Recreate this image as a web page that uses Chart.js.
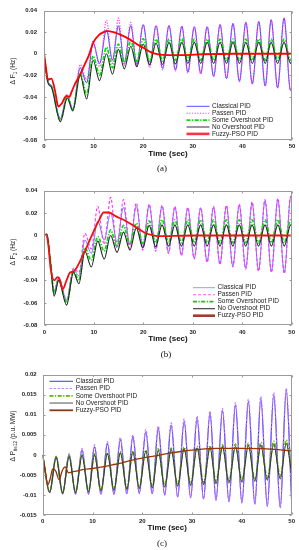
<!DOCTYPE html>
<html><head><meta charset="utf-8">
<script src="https://cdn.jsdelivr.net/npm/chart.js@4.4.0/dist/chart.umd.min.js"></script>
<style>
html,body{margin:0;padding:0;background:#fff;}
#wrap{position:relative;width:299px;height:550px;overflow:hidden;background:#fff;}
canvas{position:absolute;left:0;}
.lab{position:absolute;font-family:"Liberation Serif","DejaVu Serif",serif;font-size:9px;color:#111;transform:translate(-50%,-50%);white-space:nowrap;}
</style></head><body>
<div id="wrap">
<canvas id="ca" width="299" height="180" style="top:0px"></canvas>
<canvas id="cb" width="299" height="180" style="top:180px"></canvas>
<canvas id="cc" width="299" height="190" style="top:360px"></canvas>
<div class="lab" style="left:162px;top:168px">(a)</div>
<div class="lab" style="left:166px;top:354px">(b)</div>
<div class="lab" style="left:162px;top:543px">(c)</div>
</div>
<script>
// ---------- names and tick labels ----------
const seriesNames = ['Classical PID','Passen PID','Some Overshoot PID','No Overshoot PID','Fuzzy-PSO PID'];
const xTickLabels = ['0','10','20','30','40','50'];
const yTickLabelsA = ['0.04','0.02','0','-0.02','-0.04','-0.06','-0.08'];
const yTickLabelsB = ['0.04','0.02','0','-0.02','-0.04','-0.06','-0.08'];
const yTickLabelsC = ['0.02','0.015','0.01','0.005','0','-0.005','-0.01','-0.015'];

// ---------- panel (a): ΔF1 ----------
const timeA = [0,0.8,1.5,3.3,4.7,5.8,7.3,8.6,9.9,11.2,12.6,13.8,15.0,16.2,17.5,18.7,20.0,21.3,22.6,23.9,25.2,26.5,27.8,29.0,30.3,31.6,32.9,34.2,35.5,36.8,38.1,39.4,40.7,42.0,43.3,44.6,45.8,47.1,48.4,49.7,50];
const classicalA = [0,-0.026,-0.030,-0.060,-0.039,-0.052,-0.013,-0.027,0.010,-0.009,0.022,-0.006,0.026,-0.008,0.026,-0.010,0.027,-0.0105,0.026,-0.0135,0.026,-0.015,0.0255,-0.017,0.025,-0.018,0.025,-0.021,0.027,-0.023,0.028,-0.0255,0.029,-0.028,0.030,-0.030,0.0315,-0.0315,0.033,-0.034,-0.031];
const passenA = [0,-0.026,-0.030,-0.060,-0.038,-0.051,-0.010,-0.024,0.012,-0.012,0.031,-0.009,0.033,-0.011,0.029,-0.012,0.027,-0.013,0.026,-0.015,0.026,-0.016,0.0255,-0.018,0.025,-0.019,0.025,-0.021,0.027,-0.023,0.028,-0.026,0.029,-0.028,0.030,-0.030,0.0315,-0.032,0.033,-0.034,-0.031];
const someOvA = [0,-0.026,-0.030,-0.062,-0.040,-0.052,-0.018,-0.038,-0.002,-0.020,0.006,-0.013,0.009,-0.009,0.012,-0.007,0.014,-0.007,0.0135,-0.0065,0.0135,-0.006,0.014,-0.006,0.0135,-0.006,0.0135,-0.006,0.0135,-0.006,0.0135,-0.006,0.0135,-0.006,0.0135,-0.006,0.0135,-0.006,0.0135,-0.006,-0.004];
const noOvA = [0,-0.027,-0.031,-0.063,-0.041,-0.053,-0.020,-0.042,-0.006,-0.025,0.000,-0.019,0.004,-0.014,0.007,-0.012,0.009,-0.0105,0.010,-0.010,0.0105,-0.0095,0.0105,-0.009,0.0105,-0.009,0.0105,-0.009,0.0105,-0.009,0.0105,-0.009,0.0105,-0.009,0.0105,-0.009,0.0105,-0.009,0.0105,-0.009,-0.006];
const fuzzyTimeA = [0,0.3,0.8,1.5,2.2,2.9,3.6,4.5,5.1,5.6,6.2,7.2,8.0,9.0,10.0,11.0,12.0,12.8,14.0,15.5,17.0,18.5,20.0,21.5,23.0,25.0,28.0,32.0,38.0,50];
const fuzzyA = [0,-0.010,-0.024,-0.023,-0.034,-0.049,-0.046,-0.039,-0.040,-0.035,-0.0285,-0.020,-0.012,-0.002,0.011,0.017,0.020,0.021,0.020,0.0175,0.014,0.0095,0.0055,0.0015,-0.0005,-0.0012,-0.0012,-0.0005,0,0];

// ---------- panel (b): ΔF2 ----------
const timeB = [0,0.5,1.2,2.0,2.9,4.5,5.9,7.0,8.2,9.5,10.8,12.1,13.4,14.7,16.0,17.3,18.6,19.9,21.2,22.5,23.8,25.1,26.4,27.7,29.0,30.3,31.6,32.9,34.2,35.5,36.8,38.1,39.4,40.7,42.0,43.3,44.6,45.9,47.2,48.5,49.8,50];
const classicalB = [0,0.001,-0.022,-0.050,-0.038,-0.058,-0.030,-0.036,-0.004,-0.016,0.013,-0.004,0.020,-0.006,0.025,-0.008,0.026,-0.010,0.027,-0.012,0.026,-0.015,0.025,-0.017,0.0245,-0.020,0.0245,-0.023,0.025,-0.025,0.026,-0.027,0.027,-0.029,0.029,-0.031,0.031,-0.032,0.032,-0.033,0.034,0.033];
const passenB = [0,0.001,-0.022,-0.050,-0.037,-0.057,-0.029,-0.033,0.002,-0.012,0.026,-0.008,0.034,-0.011,0.032,-0.012,0.029,-0.013,0.028,-0.014,0.027,-0.016,0.026,-0.018,0.025,-0.021,0.025,-0.024,0.026,-0.026,0.027,-0.028,0.028,-0.030,0.030,-0.032,0.032,-0.033,0.033,-0.034,0.035,0.034];
const someOvB = [0,0.001,-0.021,-0.052,-0.039,-0.060,-0.032,-0.040,-0.011,-0.022,-0.001,-0.014,0.005,-0.010,0.009,-0.008,0.011,-0.007,0.013,-0.0065,0.014,-0.0065,0.014,-0.0065,0.014,-0.0065,0.014,-0.0065,0.014,-0.0065,0.014,-0.0065,0.014,-0.0065,0.014,-0.0065,0.014,-0.0065,0.014,-0.0065,0.014,0.013];
const noOvB = [0,0.001,-0.022,-0.054,-0.040,-0.062,-0.033,-0.043,-0.014,-0.028,-0.005,-0.021,0.000,-0.015,0.003,-0.013,0.0068,-0.011,0.009,-0.010,0.0095,-0.0095,0.0095,-0.0095,0.0095,-0.0095,0.0095,-0.0095,0.0095,-0.0095,0.0095,-0.0095,0.0095,-0.0095,0.0095,-0.0095,0.0095,-0.0095,0.0095,-0.0095,0.0095,0.009];
const fuzzyTimeB = [0,0.4,0.8,1.3,2.0,2.7,3.1,3.7,4.5,5.2,5.9,6.5,7.2,8.0,9.0,10.0,11.0,12.0,13.0,14.5,16.0,17.5,19.0,20.5,22.0,23.5,26.0,30.0,50];
const fuzzyB = [0,0.001,-0.008,-0.030,-0.040,-0.037,-0.039,-0.048,-0.040,-0.033,-0.032,-0.029,-0.023,-0.016,-0.006,0.004,0.013,0.0205,0.0205,0.017,0.014,0.0103,0.006,0.002,0.0002,-0.0006,-0.0004,0,0];

// ---------- panel (c): ΔPtie12 ----------
const timeC = [0,1.4,2.7,4.0,5.3,6.6,7.9,9.2,10.4,11.7,13.0,14.3,15.6,16.9,18.1,19.4,20.7,22.0,23.2,24.5,25.8,27.1,28.4,29.7,31.0,32.3,33.6,34.8,36.1,37.4,38.7,40.0,41.3,42.6,43.8,45.1,46.4,47.7,48.9,50];
const classicalC = [0,-0.0092,-0.0005,-0.0097,0.0000,-0.0098,0.0012,-0.0098,0.0020,-0.0098,0.0028,-0.0098,0.0038,-0.0097,0.0045,-0.0096,0.0057,-0.0097,0.0066,-0.0100,0.0074,-0.0105,0.0083,-0.0107,0.0090,-0.0110,0.0103,-0.0113,0.0110,-0.0117,0.0124,-0.0120,0.0133,-0.0123,0.0140,-0.0128,0.0150,-0.0132,0.0160,-0.0118];
const passenC = [0,-0.0092,-0.0003,-0.0097,0.0003,-0.0098,0.0016,-0.0098,0.0025,-0.0098,0.0033,-0.0098,0.0043,-0.0097,0.0050,-0.0096,0.0063,-0.0097,0.0072,-0.0100,0.0080,-0.0105,0.0090,-0.0107,0.0097,-0.0110,0.0109,-0.0113,0.0116,-0.0117,0.0130,-0.0120,0.0139,-0.0123,0.0146,-0.0128,0.0156,-0.0132,0.0166,-0.0118];
const someOvC = [0,-0.0093,-0.0005,-0.0095,-0.0003,-0.0093,0.0000,-0.0090,0.0002,-0.0088,0.0005,-0.0085,0.0008,-0.0083,0.0010,-0.0080,0.0012,-0.0078,0.0015,-0.0076,0.0017,-0.0074,0.0019,-0.0072,0.0021,-0.0070,0.0023,-0.0068,0.0025,-0.0066,0.0027,-0.0064,0.0029,-0.0062,0.0031,-0.0058,0.0034,-0.0054,0.0037,-0.0042];
const noOvC = [0,-0.0094,-0.0006,-0.0096,-0.0005,-0.0094,-0.0002,-0.0092,0.0000,-0.0090,0.0003,-0.0088,0.0005,-0.0086,0.0007,-0.0084,0.0009,-0.0082,0.0011,-0.0080,0.0013,-0.0078,0.0015,-0.0076,0.0017,-0.0074,0.0018,-0.0072,0.0020,-0.0070,0.0021,-0.0068,0.0023,-0.0066,0.0024,-0.0063,0.0026,-0.0060,0.0028,-0.0048];
const fuzzyTimeC = [0,0.5,1.0,1.5,2.0,2.6,3.3,3.9,4.5,5.2,5.8,7.0,8.0,10.0,12.0,14.0,16.0,18.0,20.0,22.0,25.0,28.0,31.0,35.0,40.0,45.0,50.0];
const fuzzyC = [0,-0.004,-0.0075,-0.006,-0.0035,-0.004,-0.0062,-0.004,-0.003,-0.0045,-0.0043,-0.0040,-0.0037,-0.0034,-0.003,-0.0025,-0.002,-0.0013,-0.0008,-0.0004,0.0003,0.0009,0.0013,0.0016,0.0016,0.0015,0.001];

// ---------- drawing ----------
const FAM = '"Liberation Sans", Arial, Helvetica, sans-serif';
Chart.defaults.font.family = FAM;
Chart.defaults.animation = false;

function pts(t, v) { return t.map((x, i) => ({x: x, y: v[i]})); }

const decoPlugin = {
  id: 'deco',
  afterDatasetsDraw(chart, args, o) {
    const {ctx, chartArea: ca, scales: {x, y}} = chart;
    ctx.save();
    const L = Math.round(ca.left) + 0.5, R = Math.round(ca.right) - 0.5;
    const T = Math.round(ca.top) + 0.5, B = Math.round(ca.bottom) - 0.5;
    ctx.setLineDash([]);
    ctx.strokeStyle = o.frameColor; ctx.lineWidth = 1;
    ctx.strokeRect(L, T, R - L, B - T);
    const tl = o.tickLen;
    ctx.beginPath();
    x.ticks.forEach(tk => {
      const px = Math.round(x.getPixelForValue(tk.value)) + 0.5;
      ctx.moveTo(px, B); ctx.lineTo(px, B - tl);
      ctx.moveTo(px, T); ctx.lineTo(px, T + tl);
    });
    y.ticks.forEach(tk => {
      const py = Math.round(y.getPixelForValue(tk.value)) + 0.5;
      ctx.moveTo(L, py); ctx.lineTo(L + tl, py);
      ctx.moveTo(R, py); ctx.lineTo(R - tl, py);
    });
    ctx.stroke();
    // legend inside the axes
    const lg = o.legend;
    ctx.fillStyle = '#ffffff';
    ctx.fillRect(lg.box[0], lg.box[1], lg.box[2], lg.box[3]);
    ctx.font = lg.font; ctx.textBaseline = 'middle'; ctx.textAlign = 'left';
    chart.data.datasets.forEach((ds, i) => {
      const yy = lg.y + i * lg.rowH;
      ctx.beginPath();
      ctx.strokeStyle = lg.colors ? lg.colors[i] : ds.borderColor;
      ctx.lineWidth = lg.widths ? lg.widths[i] : ds.borderWidth;
      ctx.setLineDash(ds.borderDash || []);
      ctx.moveTo(lg.x, yy); ctx.lineTo(lg.x + lg.lineLen, yy); ctx.stroke();
      ctx.setLineDash([]);
      ctx.fillStyle = lg.color;
      ctx.fillText(ds.label, lg.x + lg.lineLen + lg.gap, yy);
    });
    // rotated y title with subscript
    const t = o.ytitle;
    ctx.translate(t.x, t.y); ctx.rotate(-Math.PI / 2);
    ctx.fillStyle = '#222'; ctx.textBaseline = 'alphabetic'; ctx.textAlign = 'left';
    const f1 = t.size + 'px ' + FAM, f2 = (t.size * 0.72) + 'px ' + FAM;
    ctx.font = f1; const w1 = ctx.measureText(t.main).width; const w3 = ctx.measureText(t.tail).width;
    ctx.font = f2; const w2 = ctx.measureText(t.sub).width;
    let sx = -(w1 + w2 + w3) / 2;
    ctx.font = f1; ctx.fillText(t.main, sx, 0); sx += w1;
    ctx.font = f2; ctx.fillText(t.sub, sx, t.size * 0.3); sx += w2;
    ctx.font = f1; ctx.fillText(t.tail, sx, 0);
    ctx.restore();
  }
};

function makePanel(id, p) {
  const names = seriesNames;
  const ds = [
    {label: names[0], data: pts(p.t, p.s[0]), borderColor: p.col[0], borderWidth: p.lw[0], borderDash: p.dash[0], order: 4},
    {label: names[1], data: pts(p.t, p.s[1]), borderColor: p.col[1], borderWidth: p.lw[1], borderDash: p.dash[1], order: 3},
    {label: names[2], data: pts(p.t, p.s[2]), borderColor: p.col[2], borderWidth: p.lw[2], borderDash: p.dash[2], order: 2},
    {label: names[3], data: pts(p.t, p.s[3]), borderColor: p.col[3], borderWidth: p.lw[3], borderDash: p.dash[3], order: 1},
    {label: names[4], data: pts(p.ft, p.f), borderColor: p.col[4], borderWidth: p.lw[4], borderDash: p.dash[4], order: 0}
  ];
  ds.forEach(d => { d.pointRadius = 0; d.fill = false; d.cubicInterpolationMode = 'monotone'; d.backgroundColor = d.borderColor; });
  const yl = p.yLabels;
  new Chart(document.getElementById(id), {
    type: 'line',
    data: {datasets: ds},
    options: {
      responsive: false, animation: false, devicePixelRatio: 1,
      layout: {padding: p.pad},
      plugins: {legend: {display: false}, tooltip: {enabled: false}, deco: p.deco},
      scales: {
        x: {
          type: 'linear', min: 0, max: 50,
          grid: {display: false, drawTicks: false}, border: {display: false},
          afterBuildTicks: s => { s.ticks = xTickLabels.map(v => ({value: parseFloat(v)})); },
          ticks: {padding: 3, color: '#222', font: {size: 6, weight: 'bold'}, maxRotation: 0,
                  callback: v => xTickLabels.find(l => Math.abs(parseFloat(l) - v) < 1e-9)},
          title: {display: true, text: 'Time (sec)', color: '#111', padding: 0, font: {size: 8, weight: 'bold'}},
          afterFit: s => { s.height = p.xH; }
        },
        y: {
          type: 'linear', min: parseFloat(yl[yl.length - 1]), max: parseFloat(yl[0]),
          grid: {display: false, drawTicks: false}, border: {display: false},
          afterBuildTicks: s => { s.ticks = yl.map(v => ({value: parseFloat(v)})); },
          ticks: {padding: p.yPad, color: '#222', font: {size: 6, weight: 'bold'},
                  callback: v => yl.find(l => Math.abs(parseFloat(l) - v) < 1e-9)},
          afterFit: s => { s.width = p.yW; }
        }
      }
    },
    plugins: [decoPlugin]
  });
}

const legendFont = '6.5px ' + FAM;

makePanel('ca', {
  t: timeA, s: [classicalA, passenA, someOvA, noOvA], ft: fuzzyTimeA, f: fuzzyA,
  col: ['#4040ff', '#ff33ff', '#00e600', '#2a2a2a', '#ff0000'],
  lw: [1, 1.2, 1.8, 1.1, 1.8],
  dash: [[], [1.2, 1.5], [4, 1.5, 1.2, 1.5], [], []],
  yLabels: yTickLabelsA, yW: 44, yPad: 7, xH: 18.8,
  pad: {left: 0, right: 7, top: 7, bottom: 21.2},
  deco: {frameColor: '#9a9a9a', tickLen: 2,
    legend: {x: 186.5, y: 106.3, rowH: 6.9, lineLen: 23, gap: 2.5, font: legendFont, color: '#222', box: [184, 102, 107, 37],
             colors: ['#5050ff', '#ff44ff', '#00e600', '#555555', '#ff3344'], widths: [1, 1.1, 1.8, 1.2, 2.6]},
    ytitle: {main: 'Δ F', sub: '1', tail: ' (Hz)', x: 15, y: 71, size: 6.5}}
});

makePanel('cb', {
  t: timeB, s: [classicalB, passenB, someOvB, noOvB], ft: fuzzyTimeB, f: fuzzyB,
  col: ['#7575ff', '#ff33ff', '#14d414', '#222222', '#f01010'],
  lw: [1, 1.1, 1.8, 1.1, 1.8],
  dash: [[], [3, 2], [4, 1.5, 1.2, 1.5], [], []],
  yLabels: yTickLabelsB, yW: 44.3, yPad: 7, xH: 18.5,
  pad: {left: 0, right: 7.3, top: 9, bottom: 16.2},
  deco: {frameColor: '#9a9a9a', tickLen: 2,
    legend: {x: 193, y: 107.7, rowH: 7, lineLen: 22, gap: 2.5, font: legendFont, color: '#222', box: [191, 103, 100, 37],
             colors: ['#9a9aff', '#ff55ff', '#22bb22', '#333333', '#a33a2a'], widths: [1, 1.1, 1.8, 1.1, 2.6]},
    ytitle: {main: 'Δ F', sub: '2', tail: ' (Hz)', x: 15, y: 72, size: 6.5}}
});

makePanel('cc', {
  t: timeC, s: [classicalC, passenC, someOvC, noOvC], ft: fuzzyTimeC, f: fuzzyC,
  col: ['#3535ff', '#c070ff', '#5cb800', '#3a3a3a', '#993300'],
  lw: [1.2, 1.1, 1.6, 1.1, 1.3],
  dash: [[], [2.5, 1.5], [4, 1.5, 1.2, 1.5], [], []],
  yLabels: yTickLabelsC, yW: 42.7, yPad: 6, xH: 17.8,
  pad: {left: 0, right: 7.3, top: 14.7, bottom: 17.2},
  deco: {frameColor: '#9a9a9a', tickLen: 2,
    legend: {x: 49.5, y: 21.3, rowH: 7.25, lineLen: 23.5, gap: 2.7, font: legendFont, color: '#222', box: [46, 17, 100, 38],
             colors: ['#4a4ae0', '#b58aff', '#5cb800', '#707070', '#8a3a1a'], widths: [1.1, 1.1, 1.8, 1.2, 1.8]},
    ytitle: {main: 'Δ P', sub: 'tie12', tail: ' (p.u. MW)', x: 15, y: 76, size: 6.5}}
});
</script>
</body></html>
